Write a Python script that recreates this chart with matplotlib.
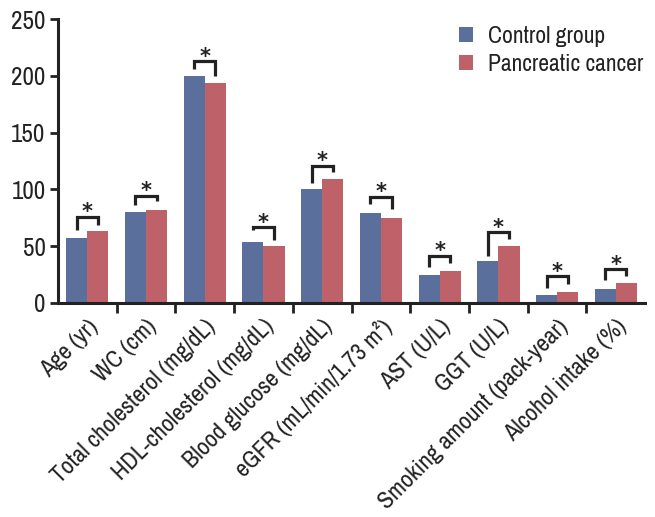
import matplotlib
matplotlib.use("Agg")
import matplotlib.pyplot as plt
import numpy as np

plt.rcParams['font.family'] = ['Archivo Narrow', 'DejaVu Sans']

categories = ["Age (yr)", "WC (cm)", "Total cholesterol (mg/dL)", "HDL-cholesterol (mg/dL)",
              "Blood glucose (mg/dL)", "eGFR (mL/min/1.73 m²)", "AST (U/L)", "GGT (U/L)",
              "Smoking amount (pack-year)", "Alcohol intake (%)"]
control = [57, 80, 200, 54, 100, 79, 25, 37, 7, 12]
cancer = [63, 82, 194, 50, 109, 75, 28, 50, 10, 18]
# bracket: top level, left leg end, right leg end
br_top = [76, 94.5, 213, 66.5, 121, 93.6, 41.6, 62.5, 23.5, 30]
br_left = [64, 86.5, 206, 64, 106, 87.4, 31.3, 41.6, 12.9, 20]
br_right = [69, 89.5, 200, 55.7, 115, 82.7, 35.2, 56.3, 16.7, 24]
yticks = [0, 50, 100, 150, 200, 250]

blue = '#5A6F9C'
red = '#BE6169'
ink = '#222222'

fig = plt.figure(figsize=(6.55, 5.17), dpi=100)
ax = fig.add_axes([0.0885, 0.414, 0.8965, 0.549])

x = np.arange(len(categories)) + 0.5
w = 0.36
ax.bar(x - w / 2, control, w, color=blue, label='Control group', zorder=2)
ax.bar(x + w / 2, cancer, w, color=red, label='Pancreatic cancer', zorder=2)

for i in range(len(categories)):
    xl, xr = x[i] - w / 2, x[i] + w / 2
    ax.plot([xl, xl, xr, xr], [br_left[i], br_top[i], br_top[i], br_right[i]],
            color=ink, lw=2.3, solid_joinstyle='miter', solid_capstyle='butt', zorder=3)
    ax.text(x[i], br_top[i] - 1.5, '*', ha='center', va='baseline', fontsize=15,
            family='DejaVu Sans', fontweight='bold', color=ink)

ax.set_xlim(0, len(categories))
ax.set_ylim(0, 250)
ax.set_yticks(yticks)
ax.set_yticklabels([str(t) for t in yticks], fontsize=18, color=ink)
ax.set_xticks(np.arange(1, len(categories)))
ax.set_xticklabels([])
ax.set_xticks(x, minor=True)
ax.set_xticklabels(categories, minor=True, rotation=45, ha='right', rotation_mode='anchor',
                   fontsize=17.5, color=ink)
ax.tick_params(axis='x', which='minor', length=0, pad=9)
ax.tick_params(axis='x', which='major', length=7, width=2, direction='out', color=ink)
ax.tick_params(axis='y', length=6, width=2, direction='out', color=ink, pad=3)

for s in ['top', 'right']:
    ax.spines[s].set_visible(False)
for s in ['left', 'bottom']:
    ax.spines[s].set_linewidth(2.2)
    ax.spines[s].set_color(ink)

leg = ax.legend(loc='upper right', bbox_to_anchor=(1.02, 1.025), frameon=False, fontsize=17,
                handlelength=0.6, handleheight=0.6, handletextpad=0.6, labelspacing=0.28,
                borderaxespad=0.2)
for t in leg.get_texts():
    t.set_color(ink)

fig.savefig('out.png', dpi=100)
